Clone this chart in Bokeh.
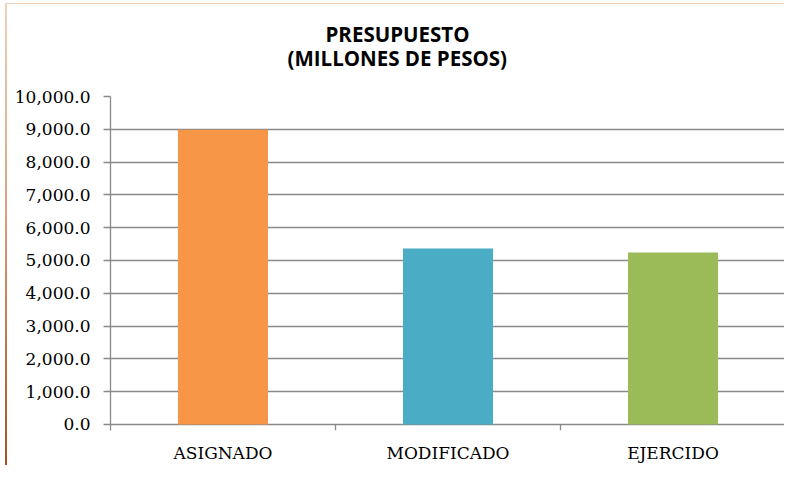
from bokeh.plotting import figure
from bokeh.models import FactorRange, Range1d, FixedTicker, NumeralTickFormatter, Title
from bokeh.embed import file_html
from bokeh.resources import INLINE

categories = ["ASIGNADO", "MODIFICADO", "EJERCIDO"]
values = [8985.0, 5365.0, 5245.0]
colors = ["#F79646", "#4BACC6", "#9BBB59"]
y_ticks = [0, 1000, 2000, 3000, 4000, 5000, 6000, 7000, 8000, 9000, 10000]
title_lines = ["PRESUPUESTO", "(MILLONES DE PESOS)"]

tick_len = 183  # data-units length of the category boundary tick marks

p = figure(x_range=FactorRange(*categories), y_range=Range1d(-tick_len, 10000),
           width=779, height=462, output_backend="svg", toolbar_location=None,
           min_border_left=103, min_border_right=1, min_border_top=92, min_border_bottom=36)
p.styles = {"margin-left": "5px", "margin-top": "3px",
            "border-left": "2px solid #C98A5E", "border-top": "1px solid #EBC9B0",
            "border-image": "linear-gradient(to bottom, #EFD2BC, #D9A07A 45%, #9E5128) 1"}
p.title = None
# spacer between the title block and the plot area
p.add_layout(Title(text=" ", standoff=9, text_font="Open Sans", text_font_size="10px"), "above")
p.add_layout(Title(text=title_lines[1], align="left", offset=177, standoff=0,
                   text_font="Open Sans", text_font_size="20.5px", text_font_style="bold",
                   text_color="#000000"), "above")
p.add_layout(Title(text=title_lines[0], align="left", offset=215, standoff=-12,
                   text_font="Open Sans", text_font_size="20.5px", text_font_style="bold",
                   text_color="#000000"), "above")
p.outline_line_color = None
p.background_fill_color = "white"
p.border_fill_color = "white"

p.vbar(x=categories, top=values, width=0.4, fill_color=colors, line_color=None)

# category boundary tick marks (Excel style)
bounds = list(range(0, len(categories) + 1))
p.segment(x0=bounds[1:], y0=[0] * len(categories), x1=bounds[1:], y1=[-tick_len] * len(categories),
          line_color="#898989", line_width=1.3)

p.ygrid.ticker = FixedTicker(ticks=y_ticks)
p.ygrid.grid_line_color = "#898989"
p.ygrid.grid_line_width = 1.3
p.xgrid.grid_line_color = None

p.yaxis.ticker = FixedTicker(ticks=y_ticks)
p.yaxis.formatter = NumeralTickFormatter(format="0,0.0")
p.yaxis.axis_line_color = "#898989"
p.yaxis.axis_line_width = 1.3
p.yaxis.major_tick_line_color = "#898989"
p.yaxis.major_tick_line_width = 1.3
p.yaxis.major_tick_out = 7
p.yaxis.major_tick_in = 0
p.yaxis.minor_tick_line_color = None
p.yaxis.major_label_standoff = 13
p.yaxis.major_label_text_font = "DejaVu Serif"
p.yaxis.major_label_text_font_size = "17px"
p.yaxis.major_label_text_color = "#000000"

p.xaxis.axis_line_color = None
p.xaxis.major_tick_line_color = None
p.xaxis.minor_tick_line_color = None
p.xaxis.major_label_standoff = 6
p.xaxis.major_label_text_font = "DejaVu Serif"
p.xaxis.major_label_text_font_size = "17px"
p.xaxis.major_label_text_color = "#000000"

open("out.html", "w").write(file_html(p, INLINE))
